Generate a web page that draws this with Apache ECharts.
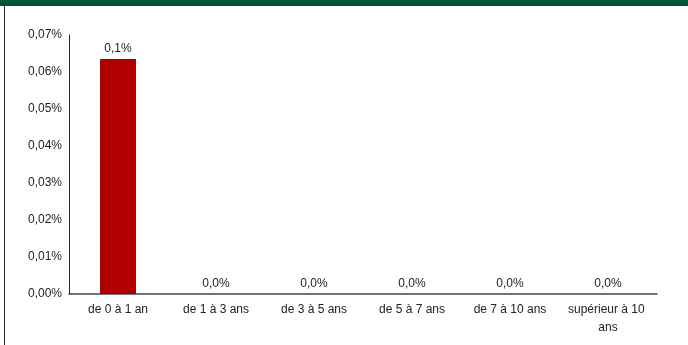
<!DOCTYPE html>
<html>
<head>
<meta charset="utf-8">
<script src="https://cdn.jsdelivr.net/npm/echarts@6/dist/echarts.min.js"></script>
<style>
  html, body { margin: 0; padding: 0; background: #fff; }
  #chart { width: 688px; height: 345px; }
</style>
</head>
<body>
<div id="chart"></div>
<script>
// Maturity buckets and their share of the portfolio (in %)
const categories = ['de 0 à 1 an', 'de 1 à 3 ans', 'de 3 à 5 ans', 'de 5 à 7 ans', 'de 7 à 10 ans', 'supérieur à 10 ans'];
const values = [0.0635, 0, 0, 0, 0, 0];
const yTicks = [0, 0.01, 0.02, 0.03, 0.04, 0.05, 0.06, 0.07];

const FONT = 'Liberation Sans, Arial, sans-serif';
const frFixed = (v, d) => v.toFixed(d).replace('.', ',');

const chart = echarts.init(document.getElementById('chart'), null, { renderer: 'canvas' });
chart.setOption({
  animation: false,
  backgroundColor: '#ffffff',
  textStyle: { fontFamily: FONT },
  graphic: [
    { type: 'rect', left: 0, top: 0, shape: { width: 688, height: 6 }, style: { fill: '#00533a' } },
    { type: 'line', shape: { x1: 4.5, y1: 6, x2: 4.5, y2: 345 }, style: { stroke: '#222', lineWidth: 1 } }
  ],
  grid: { left: 69, right: 31, top: 35, bottom: 51, containLabel: false },
  xAxis: {
    type: 'category',
    data: categories,
    axisLine: { lineStyle: { color: '#444', width: 1.5 } },
    axisTick: { show: false },
    axisLabel: {
      color: '#222', fontSize: 12, fontFamily: FONT, margin: 7,
      width: 92, overflow: 'break', lineHeight: 18, interval: 0
    }
  },
  yAxis: {
    type: 'value',
    min: yTicks[0],
    max: yTicks[yTicks.length - 1],
    interval: 0.01,
    axisLine: { show: true, lineStyle: { color: '#222', width: 1 } },
    axisTick: { show: false },
    splitLine: { show: false },
    axisLabel: {
      color: '#222', fontSize: 12, fontFamily: FONT, margin: 7,
      formatter: v => frFixed(v, 2) + '%'
    }
  },
  series: [{
    type: 'bar',
    data: values,
    barWidth: 36,
    itemStyle: { color: '#b00000' },
    label: {
      show: true, position: 'top', distance: 4,
      color: '#222', fontSize: 12, fontFamily: FONT,
      formatter: p => frFixed(p.value, 1) + '%'
    }
  }]
});
</script>
</body>
</html>
